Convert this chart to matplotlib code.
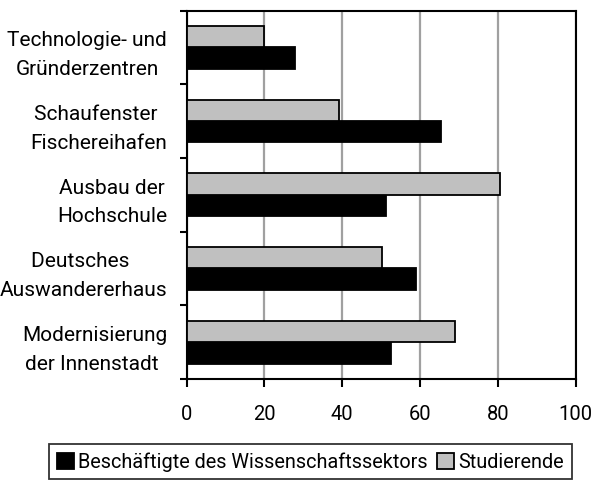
import numpy as np
import matplotlib.pyplot as plt

plt.rcParams['font.family'] = ['Roboto', 'DejaVu Sans']

categories = ['Technologie- und\nGründerzentren', 'Schaufenster \nFischereihafen',
              'Ausbau der\nHochschule', 'Deutsches \nAuswandererhaus',
              'Modernisierung\nder Innenstadt ']
beschaeftigte = [28, 65.5, 51.3, 59.1, 52.6]
studierende = [20, 39.3, 80.6, 50.3, 69.1]
x_ticks = [0, 20, 40, 60, 80, 100]

fig = plt.figure(figsize=(5.95, 4.81), dpi=100)
ax = fig.add_axes([186.5 / 595, 1 - 380 / 481, 389 / 595, 368.5 / 481])

y = np.arange(len(categories))
h = 0.29
ax.barh(y + h / 2, beschaeftigte, height=h, color='black', edgecolor='black',
        linewidth=1.3, label='Beschäftigte des Wissenschaftssektors', zorder=3)
ax.barh(y - h / 2, studierende, height=h, color='#c0c0c0', edgecolor='black',
        linewidth=1.3, label='Studierende', zorder=3)

ax.set_xlim(0, 100)
ax.set_ylim(len(categories) - 0.5, -0.5)
ax.set_xticks(x_ticks)
ax.set_xticklabels([str(v) for v in x_ticks], fontsize=14.5)
ax.xaxis.grid(True, color='#a0a0a0', linewidth=1.6, zorder=0)

ax.set_yticks(y)
ax.set_yticklabels(categories, fontsize=15, multialignment='center', linespacing=1.65)
ax.set_yticks(np.arange(-0.5, len(categories)), minor=True)
ax.tick_params(axis='y', which='major', length=0, pad=14)
ax.tick_params(axis='y', which='minor', length=5, width=1.5, direction='out')
ax.tick_params(axis='x', length=6, width=1.5, direction='out', pad=12)

for s in ax.spines.values():
    s.set_linewidth(1.5)

handles, labels = ax.get_legend_handles_labels()
leg = fig.legend(handles, labels, loc='upper left', bbox_to_anchor=(49 / 595, 1 - 445 / 481),
                 ncol=2, fontsize=14.3, frameon=True, fancybox=False, edgecolor='black',
                 handlelength=0.85, handleheight=0.85, handletextpad=0.2, columnspacing=0.5,
                 borderpad=0.4, borderaxespad=0)
leg.get_frame().set_linewidth(1.3)

fig.savefig('out.png', dpi=100)
